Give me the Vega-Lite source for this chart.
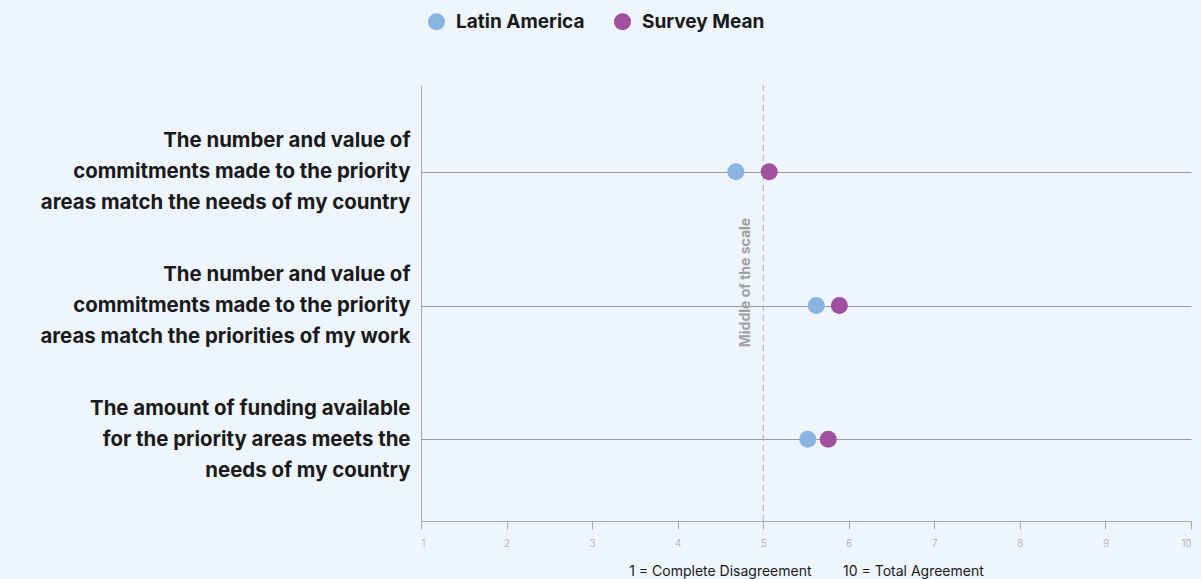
{
  "$schema": "https://vega.github.io/schema/vega-lite/v6.json",
  "autosize": {"type": "none"},
  "padding": {"left": 421, "top": 85, "right": 10, "bottom": 58},
  "width": 770,
  "height": 436,
  "background": "#eff5fc",
  "config": {
    "view": {"stroke": null},
    "font": "Inter"
  },
  "datasets": {
    "scores": [
      {"question": "The number and value of commitments made to the priority areas match the needs of my country", "group": "Latin America", "value": 4.68},
      {"question": "The number and value of commitments made to the priority areas match the needs of my country", "group": "Survey Mean", "value": 5.07},
      {"question": "The number and value of commitments made to the priority areas match the priorities of my work", "group": "Latin America", "value": 5.62},
      {"question": "The number and value of commitments made to the priority areas match the priorities of my work", "group": "Survey Mean", "value": 5.89},
      {"question": "The amount of funding available for the priority areas meets the needs of my country", "group": "Latin America", "value": 5.52},
      {"question": "The amount of funding available for the priority areas meets the needs of my country", "group": "Survey Mean", "value": 5.76}
    ],
    "mid": [
      {"value": 5, "label": "Middle of the scale", "question": "The number and value of commitments made to the priority areas match the priorities of my work"}
    ]
  },
  "layer": [
    {
      "data": {"name": "mid"},
      "mark": {"type": "rule", "color": "#aaaaaa", "strokeDash": [6, 4], "strokeWidth": 1},
      "encoding": {
        "x": {"field": "value", "type": "quantitative", "scale": {"domain": [1, 10], "nice": false}}
      }
    },
    {
      "data": {"name": "mid"},
      "mark": {"type": "text", "angle": 270, "align": "center", "baseline": "middle", "dx": 23, "dy": -17, "fontSize": 14, "fontWeight": "bold", "color": "#a0a0a0"},
      "encoding": {
        "x": {"field": "value", "type": "quantitative"},
        "y": {"field": "question", "type": "nominal", "sort": [
          "The number and value of commitments made to the priority areas match the needs of my country",
          "The number and value of commitments made to the priority areas match the priorities of my work",
          "The amount of funding available for the priority areas meets the needs of my country"
        ]},
        "text": {"field": "label"}
      }
    },
    {
      "data": {"name": "scores"},
      "mark": {"type": "circle", "size": 290, "opacity": 1},
      "encoding": {
        "x": {
          "field": "value", "type": "quantitative",
          "scale": {"domain": [1, 10], "nice": false},
          "axis": {
            "values": [1, 2, 3, 4, 5, 6, 7, 8, 9, 10],
            "format": "d",
            "grid": false,
            "domainColor": "#aaaaaa",
            "tickColor": "#aaaaaa",
            "tickSize": 8,
            "labelColor": "#aaaaaa",
            "labelFontSize": 10,
            "labelFontWeight": 300,
            "labelPadding": 9,
            "title": "1 = Complete Disagreement\u00a0\u00a0\u00a0\u00a0\u00a0\u00a0\u00a0\u00a010 = Total Agreement",
            "titleFontSize": 14,
            "titleFontWeight": "normal",
            "titleColor": "#1a1a1a",
            "titlePadding": 16
          }
        },
        "y": {
          "field": "question", "type": "nominal",
          "sort": [
            "The number and value of commitments made to the priority areas match the needs of my country",
            "The number and value of commitments made to the priority areas match the priorities of my work",
            "The amount of funding available for the priority areas meets the needs of my country"
          ],
          "scale": {"type": "point", "padding": 0.63, "align": 0.515},
          "axis": {
            "title": null,
            "ticks": false,
            "grid": true,
            "gridColor": "#999999",
            "gridWidth": 1,
            "domainColor": "#aaaaaa",
            "labelFontSize": 20.4,
            "labelFontWeight": "bold",
            "labelColor": "#1a1a1a",
            "labelPadding": 11,
            "labelLineHeight": 31,
            "labelOffset": -31,
            "labelLimit": 500,
            "labelExpr": "datum.label == 'The number and value of commitments made to the priority areas match the needs of my country' ? ['The number and value of', 'commitments made to the priority', 'areas match the needs of my country'] : datum.label == 'The number and value of commitments made to the priority areas match the priorities of my work' ? ['The number and value of', 'commitments made to the priority', 'areas match the priorities of my work'] : ['The amount of funding available', 'for the priority areas meets the', 'needs of my country']"
          }
        },
        "color": {
          "field": "group", "type": "nominal",
          "scale": {"domain": ["Latin America", "Survey Mean"], "range": ["#89b4e1", "#a0509f"]},
          "legend": {
            "title": null,
            "orient": "none",
            "direction": "horizontal",
            "legendX": 6,
            "legendY": -73,
            "symbolType": "circle",
            "symbolSize": 290,
            "symbolOpacity": 1,
            "labelFontSize": 19,
            "labelFontWeight": "bold",
            "labelColor": "#1a1a1a",
            "labelOffset": 10,
            "columnPadding": 28
          }
        }
      }
    }
  ]
}
